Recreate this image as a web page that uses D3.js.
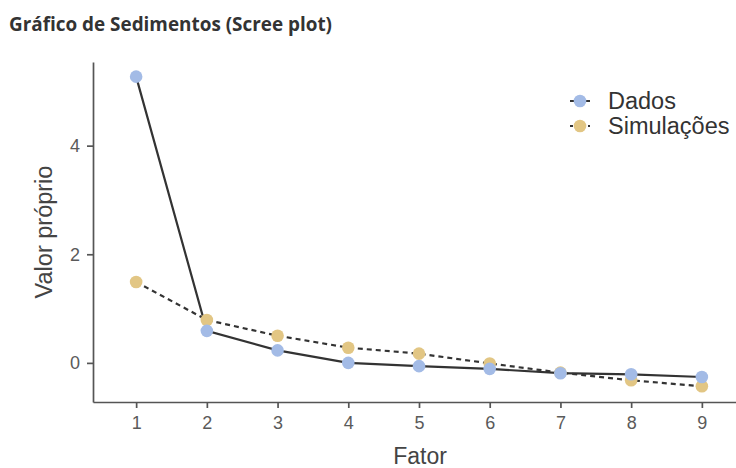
<!DOCTYPE html>
<html>
<head>
<meta charset="utf-8">
<script src="https://cdn.jsdelivr.net/npm/d3@7"></script>
<style>
  body { margin: 0; background: #fff; }
  text { font-family: "Liberation Sans", Arial, sans-serif; }
</style>
</head>
<body>
<div id="chart"></div>
<script>
// Data
var fatores = [1, 2, 3, 4, 5, 6, 7, 8, 9];
var dados = [5.27, 0.59, 0.23, 0.0, -0.06, -0.11, -0.19, -0.21, -0.26];
var simulacoes = [1.49, 0.79, 0.50, 0.28, 0.17, -0.01, -0.18, -0.32, -0.43];
var yTicks = [0, 2, 4];
var legendLabels = ["Dados", "Simulações"];

function initializeChart() {
    d3.select("#chart").select("svg").remove();

    var W = 736, H = 468;
    var margin = { top: 62, right: -9, bottom: 66, left: 93 },
        width = W - margin.left - margin.right,
        height = H - margin.top - margin.bottom;

    var svg = d3.select("#chart").append("svg")
        .attr("width", W)
        .attr("height", H);

    // Title
    svg.append("text")
        .attr("x", 9)
        .attr("y", 31)
        .style("font-family", "'Open Sans', sans-serif")
        .style("font-weight", "bold")
        .style("font-size", "18.9px")
        .attr("fill", "#333")
        .text("Gráfico de Sedimentos (Scree plot)");

    var g = svg.append("g")
        .attr("transform", `translate(${margin.left},${margin.top})`);

    // X scale, with ggplot-like expansion
    var x = d3.scaleLinear()
        .domain([0.39, 9.61])
        .range([0, width]);

    var y = d3.scaleLinear()
        .domain([-0.72, 5.54])
        .range([height, 0]);

    // Axes
    var xAxis = g.append("g")
        .attr("transform", `translate(0,${height})`)
        .call(d3.axisBottom(x).tickValues(fatores).tickSize(6).tickPadding(8).tickSizeOuter(0));
    var yAxis = g.append("g")
        .call(d3.axisLeft(y).tickValues(yTicks).tickFormat(d3.format("d")).tickSize(6).tickPadding(7).tickSizeOuter(0));

    [xAxis, yAxis].forEach(function (a) {
        a.select(".domain").attr("stroke", "#555").attr("stroke-width", 1.7);
        a.selectAll(".tick line").attr("stroke", "#555").attr("stroke-width", 1.7);
        a.selectAll(".tick text")
            .attr("fill", "#5a5a5a")
            .style("font-size", "18px")
            .style("font-family", "'Liberation Sans', Arial, sans-serif");
    });

    // Axis titles
    svg.append("text")
        .attr("x", 420)
        .attr("y", 464)
        .attr("text-anchor", "middle")
        .attr("fill", "#444")
        .style("font-size", "23px")
        .text("Fator");
    svg.append("text")
        .attr("transform", "translate(52,232) rotate(-90)")
        .attr("text-anchor", "middle")
        .attr("fill", "#444")
        .style("font-size", "23.5px")
        .text("Valor próprio");

    var line = d3.line()
        .x((d, i) => x(fatores[i]))
        .y(d => y(d));

    var series = [
        { key: "Dados", values: dados, color: "#a3bbe6", dash: null },
        { key: "Simulações", values: simulacoes, color: "#e2c684", dash: "5,4" }
    ];

    series.forEach(function (s) {
        g.append("path")
            .datum(s.values)
            .attr("fill", "none")
            .attr("stroke", "#333")
            .attr("stroke-width", 2.2)
            .attr("stroke-dasharray", s.dash)
            .attr("d", line);
    });

    // points: simulations first, data on top
    [series[1], series[0]].forEach(function (s) {
        g.selectAll(null)
            .data(s.values)
            .enter()
            .append("circle")
            .attr("cx", (d, i) => x(fatores[i]))
            .attr("cy", d => y(d))
            .attr("r", 6.3)
            .attr("fill", s.color);
    });

    // Legend
    var legend = svg.append("g").attr("transform", "translate(580,101)");
    series.forEach(function (s, i) {
        var lg = legend.append("g").attr("transform", `translate(0,${i * 25})`);
        lg.append("line")
            .attr("x1", -10).attr("x2", 10)
            .attr("stroke", "#333")
            .attr("stroke-width", 2)
            .attr("stroke-dasharray", s.dash ? "3,3" : null);
        lg.append("circle").attr("r", 6.3).attr("fill", s.color);
        lg.append("text")
            .attr("x", 28)
            .attr("y", 8)
            .attr("fill", "#333")
            .style("font-size", "23.5px")
            .text(legendLabels[i]);
    });
}

document.addEventListener('DOMContentLoaded', initializeChart);
</script>
</body>
</html>
